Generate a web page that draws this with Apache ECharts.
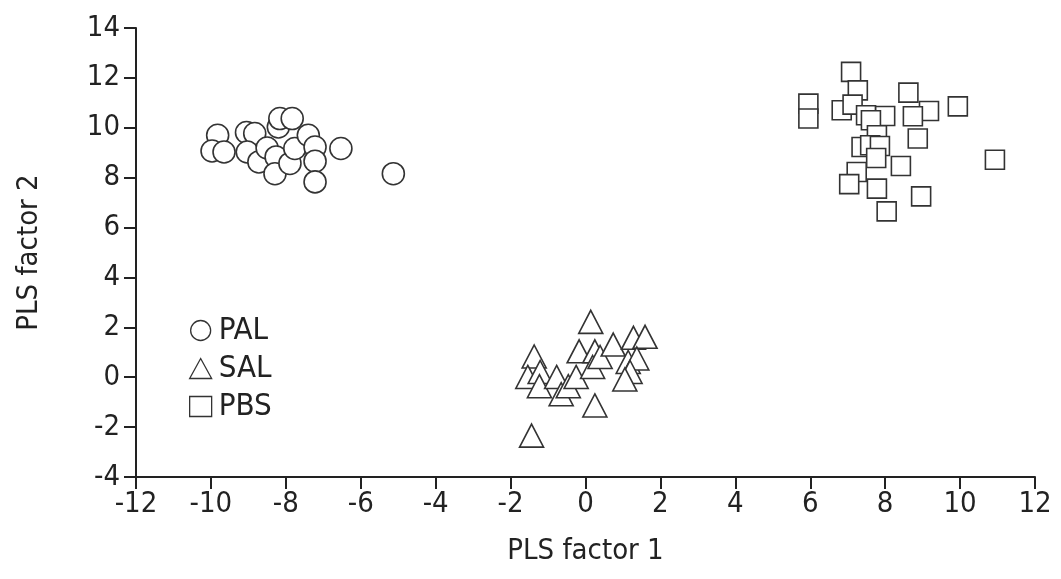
<!DOCTYPE html>
<html>
<head>
<meta charset="utf-8">
<script src="https://cdn.jsdelivr.net/npm/echarts@6/dist/echarts.min.js"></script>
<style>
  html, body { margin: 0; padding: 0; background: #fff; }
  #main { width: 1061px; height: 579px; }
</style>
</head>
<body>
<div id="main"></div>
<script>
// PLS factor 1 / PLS factor 2
var pal = [
    [-9.82, 9.70], [-9.97, 9.07], [-9.65, 9.03], [-9.05, 9.81], [-8.83, 9.77],
    [-9.03, 9.03], [-8.72, 8.63], [-8.50, 9.19], [-8.26, 8.83], [-8.29, 8.16],
    [-8.20, 10.03], [-8.16, 10.37], [-7.83, 10.37], [-7.89, 8.57], [-7.76, 9.17],
    [-7.40, 9.70], [-7.22, 9.23], [-7.22, 8.66], [-7.22, 7.83], [-6.53, 9.17],
    [-5.13, 8.16]
];
var sal = [
    [0.14, 2.22], [-1.37, 0.83], [-1.54, 0.01], [-1.21, 0.21], [-1.23, -0.36],
    [-0.77, 0.01], [-0.65, -0.68], [-0.46, -0.36], [-0.25, 0.01], [-0.17, 1.04],
    [0.25, 1.04], [0.19, 0.41], [0.39, 0.81], [0.74, 1.31], [0.25, -1.13],
    [-1.44, -2.34], [1.28, 1.58], [1.59, 1.62], [1.14, 0.61], [1.37, 0.75],
    [1.19, 0.21], [1.05, -0.09]
];
var pbs = [
    [7.09, 12.24], [7.27, 11.50], [5.95, 10.97], [5.95, 10.37], [6.84, 10.70],
    [7.13, 10.93], [7.49, 10.50], [8.00, 10.47], [8.62, 11.41], [9.17, 10.67],
    [8.74, 10.46], [9.94, 10.86], [7.62, 10.30], [7.78, 9.70], [8.87, 9.57],
    [7.37, 9.23], [7.60, 9.30], [7.86, 9.27], [7.76, 8.79], [8.42, 8.47],
    [10.93, 8.72], [7.24, 8.23], [7.04, 7.74], [7.78, 7.56], [8.96, 7.25],
    [8.04, 6.65]
];
var xTicks = [-12, 12, 2];
var yTicks = [-4, 14, 2];

var font = 'DejaVu Sans Condensed, Liberation Sans Narrow, sans-serif';
var ink = '#222';

var myChart = echarts.init(document.getElementById('main'));

function mark(name, data, symbol, size) {
    return {
        name: name,
        type: 'scatter',
        data: data,
        symbol: symbol,
        symbolSize: size,
        itemStyle: { color: '#fff', borderColor: '#333', borderWidth: 1.6, opacity: 1 },
        emphasis: { disabled: true }
    };
}

myChart.setOption({
    animation: false,
    backgroundColor: '#fff',
    grid: { left: 136, right: 26, top: 28, bottom: 102 },
    legend: {
        orient: 'vertical',
        left: 184,
        top: 310,
        itemWidth: 22,
        itemHeight: 20,
        itemGap: 7,
        itemStyle: { borderWidth: 1.3 },
        textStyle: { fontFamily: font, fontSize: 31, color: ink, padding: [0, 0, 0, 2] },
        data: ['PAL', 'SAL', 'PBS']
    },
    xAxis: {
        type: 'value',
        min: xTicks[0],
        max: xTicks[1],
        interval: xTicks[2],
        name: 'PLS factor 1',
        nameLocation: 'middle',
        nameGap: 60,
        nameTextStyle: { fontFamily: font, fontSize: 29, color: ink },
        axisLine: { onZero: false, lineStyle: { color: ink, width: 2 } },
        axisTick: { length: 12, lineStyle: { color: ink, width: 2 } },
        axisLabel: { fontFamily: font, fontSize: 29, color: ink, margin: 13 },
        splitLine: { show: false }
    },
    yAxis: {
        type: 'value',
        min: yTicks[0],
        max: yTicks[1],
        interval: yTicks[2],
        name: 'PLS factor 2',
        nameLocation: 'middle',
        nameGap: 92,
        nameTextStyle: { fontFamily: font, fontSize: 29, color: ink },
        axisLine: { onZero: false, lineStyle: { color: ink, width: 2 } },
        axisTick: { length: 12, lineStyle: { color: ink, width: 2 } },
        axisLabel: { fontFamily: font, fontSize: 29, color: ink, margin: 16 },
        splitLine: { show: false }
    },
    series: [
        mark('PAL', pal, 'circle', 22),
        mark('SAL', sal, 'triangle', [24, 23]),
        mark('PBS', pbs, 'rect', 19)
    ]
});
</script>
</body>
</html>
